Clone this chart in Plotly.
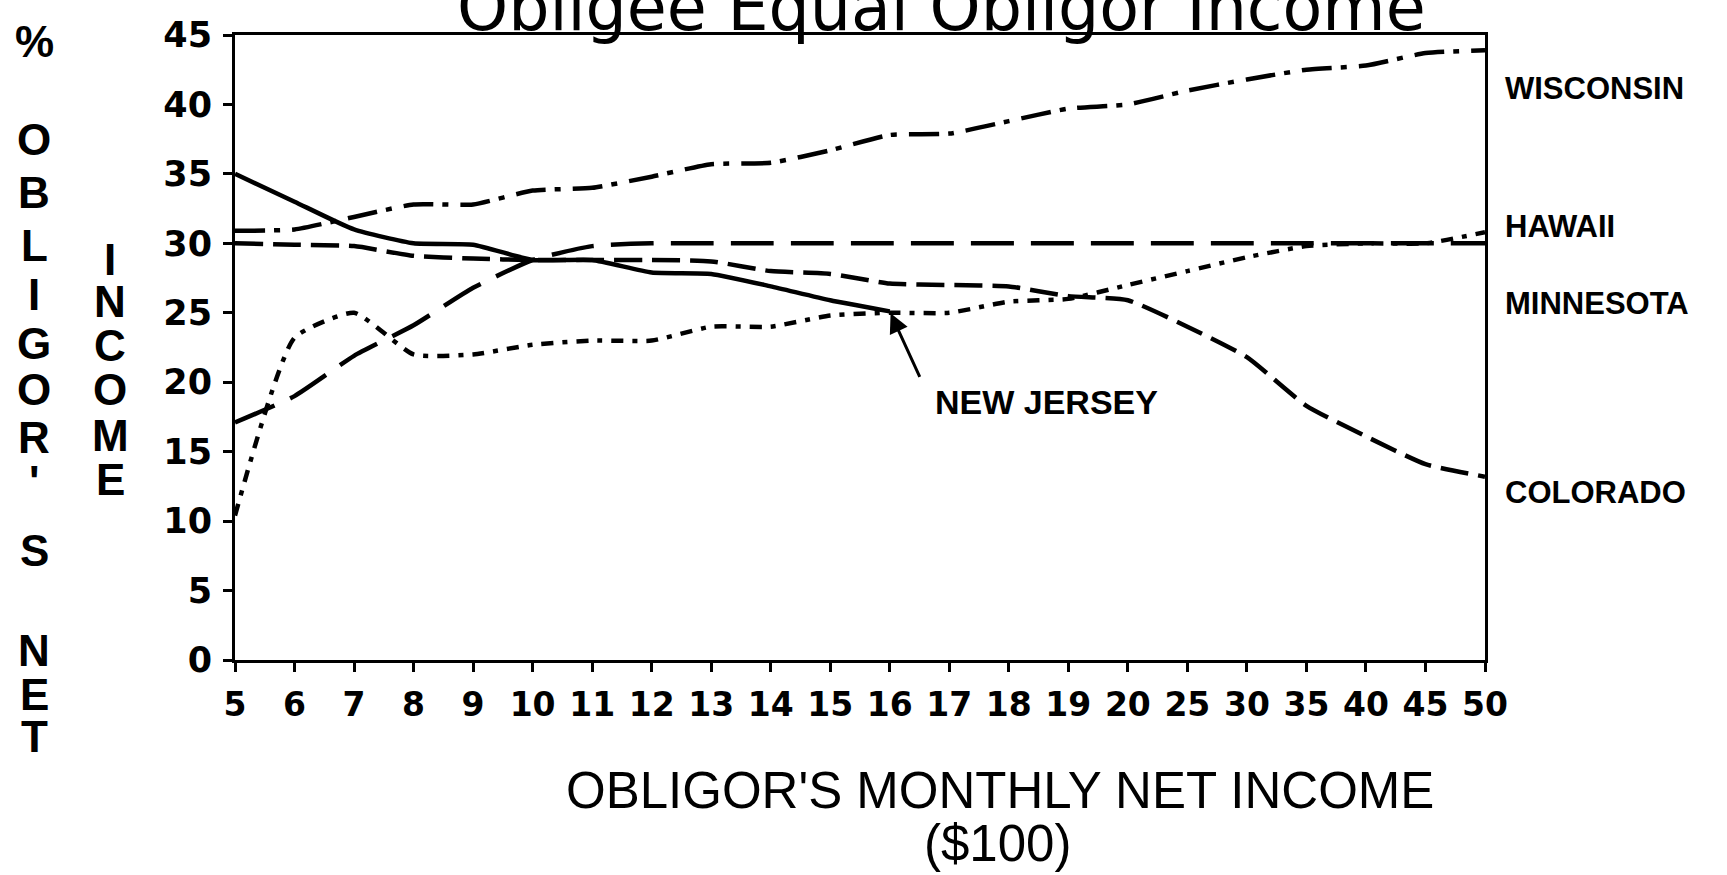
import plotly.graph_objects as go

# ---------------- data ----------------
x_labels = ["5", "6", "7", "8", "9", "10", "11", "12", "13", "14", "15", "16",
            "17", "18", "19", "20", "25", "30", "35", "40", "45", "50"]

wisconsin = [30.9, 31.0, 31.9, 32.8, 32.8, 33.8, 34.0, 34.8, 35.7, 35.8, 36.7, 37.8,
             37.9, 38.8, 39.7, 40.0, 41.0, 41.8, 42.5, 42.8, 43.7, 43.9]
hawaii = [17.1, 19.0, 21.9, 24.1, 26.8, 28.8, 29.8, 30.0, 30.0, 30.0, 30.0, 30.0,
          30.0, 30.0, 30.0, 30.0, 30.0, 30.0, 30.0, 30.0, 30.0, 30.0]
minnesota = [10.4, 23.2, 25.0, 22.0, 22.0, 22.7, 23.0, 23.0, 24.0, 24.0, 24.8, 25.0,
             25.0, 25.8, 26.0, 27.0, 28.0, 29.0, 29.8, 30.0, 30.0, 30.8]
colorado = [30.0, 29.9, 29.8, 29.1, 28.9, 28.8, 28.8, 28.8, 28.7, 28.0, 27.8, 27.1,
            27.0, 26.9, 26.2, 25.9, 24.0, 21.8, 18.3, 16.1, 14.1, 13.2]
new_jersey = [35.0, 33.0, 31.0, 30.0, 29.9, 28.8, 28.8, 27.9, 27.8, 26.9, 25.9, 25.1]

state_labels = ["WISCONSIN", "HAWAII", "MINNESOTA", "COLORADO"]
title_text = "Obligee Equal Obligor Income"
x_title = "OBLIGOR'S MONTHLY NET INCOME"
x_unit = "($100)"
y_title_col1 = ["%", "O", "B", "L", "I", "G", "O", "R", "'", "S", "N", "E", "T"]
y_title_col2 = ["I", "N", "C", "O", "M", "E"]

# ---------------- layout geometry ----------------
W, H = 1727, 875
ML, MR, MT, MB = 235, 242, 35, 215
PW, PH = W - ML - MR, H - MT - MB


def px(xp):
    return (xp - ML) / PW


def py(yp):
    return 1 - (yp - MT) / PH


fig = go.Figure()

series = [
    ("Wisconsin", wisconsin, "30px,9px,6px,12px"),
    ("Hawaii", hawaii, "43px,17px"),
    ("Minnesota", minnesota, "12px,9px,5px,9px"),
    ("Colorado", colorado, "28px,10px"),
    ("New Jersey", new_jersey, "solid"),
]
for name, vals, dash in series:
    fig.add_trace(go.Scatter(
        x=x_labels[:len(vals)], y=vals, mode="lines", name=name,
        line=dict(color="black", width=4.5, dash=dash, shape="spline", smoothing=0.5),
        showlegend=False,
    ))

axis_common = dict(showgrid=False, zeroline=False, color="black")

fig.update_layout(
    width=W, height=H,
    margin=dict(l=ML, r=MR, t=MT, b=MB, pad=0),
    paper_bgcolor="white", plot_bgcolor="white",
    showlegend=False,
    xaxis=dict(
        type="category", categoryorder="array", categoryarray=x_labels,
        range=[0, len(x_labels) - 1],
        showline=True, linewidth=3, linecolor="black", mirror=True,
        ticks="outside", ticklen=9, tickwidth=3, tickcolor="black",
        tickangle=0, ticklabelstandoff=4,
        tickfont=dict(family="DejaVu Sans", size=33, weight="bold", color="black"),
        **axis_common,
    ),
    yaxis=dict(
        range=[0, 45], tick0=0, dtick=5,
        showline=True, linewidth=3, linecolor="black", mirror=True,
        ticks="outside", ticklen=9, tickwidth=3, tickcolor="black",
        ticklabelstandoff=4,
        tickfont=dict(family="DejaVu Sans", size=35, weight="bold", color="black"),
        **axis_common,
    ),
    xaxis2=dict(
        overlaying="x", anchor="y", side="bottom", range=[0, len(x_labels) - 1],
        tickmode="linear", tick0=0, dtick=1,
        ticks="inside", ticklen=9, tickwidth=3, tickcolor="black",
        showticklabels=False, showline=False, **axis_common,
    ),
    yaxis2=dict(
        overlaying="y", anchor="x", side="left", range=[0, 45],
        tickmode="linear", tick0=0, dtick=5,
        ticks="inside", ticklen=9, tickwidth=3, tickcolor="black",
        showticklabels=False, showline=False, **axis_common,
    ),
)

ann = []
# title (top partly cut off, as in the scanned original)
ann.append(dict(text=title_text, xref="paper", yref="paper", x=px(941), y=py(47),
                xanchor="center", yanchor="bottom", showarrow=False,
                font=dict(family="DejaVu Sans", size=65, color="black")))
# x-axis title
ann.append(dict(text=x_title, xref="paper", yref="paper", x=px(1000), y=py(790),
                xanchor="center", yanchor="middle", showarrow=False,
                font=dict(family="Liberation Sans", size=51, color="black")))
ann.append(dict(text=x_unit, xref="paper", yref="paper", x=px(997), y=py(843),
                xanchor="center", yanchor="middle", showarrow=False,
                font=dict(family="Liberation Sans", size=51, color="black")))
# stacked y-axis title
col1_y = [41, 139, 192, 245, 295, 343, 390, 437, 482, 550, 650, 694, 736]
for ch, yy in zip(y_title_col1, col1_y):
    ann.append(dict(text=ch, xref="paper", yref="paper", x=px(34), y=py(yy),
                    xanchor="center", yanchor="middle", showarrow=False,
                    font=dict(family="Liberation Sans", size=44, weight="bold", color="black")))
col2_y = [259, 301, 345, 390, 435, 479]
for ch, yy in zip(y_title_col2, col2_y):
    ann.append(dict(text=ch, xref="paper", yref="paper", x=px(110), y=py(yy),
                    xanchor="center", yanchor="middle", showarrow=False,
                    font=dict(family="Liberation Sans", size=44, weight="bold", color="black")))
# state labels on the right
label_y = [88, 226, 303, 492]
for lab, yy in zip(state_labels, label_y):
    ann.append(dict(text=lab, xref="paper", yref="paper", x=px(1503), y=py(yy),
                    xanchor="left", yanchor="middle", showarrow=False,
                    font=dict(family="Liberation Sans", size=31, weight="bold", color="black")))
# New Jersey pointer (category index of the last New Jersey point)
ann.append(dict(text=" ", x=len(new_jersey) - 1, y=new_jersey[-1],
                xref="x", yref="y", showarrow=True, arrowhead=2, arrowsize=1.3,
                arrowwidth=3, arrowcolor="black", ax=33, ay=72, standoff=2))
ann.append(dict(text="NEW JERSEY", xref="paper", yref="paper", x=px(1046), y=py(402),
                xanchor="center", yanchor="middle", showarrow=False,
                font=dict(family="Liberation Sans", size=34, weight="bold", color="black")))

fig.update_layout(annotations=ann)

fig.write_html("out.html", config={"displayModeBar": False},
               post_script="document.body.style.margin='0';")
